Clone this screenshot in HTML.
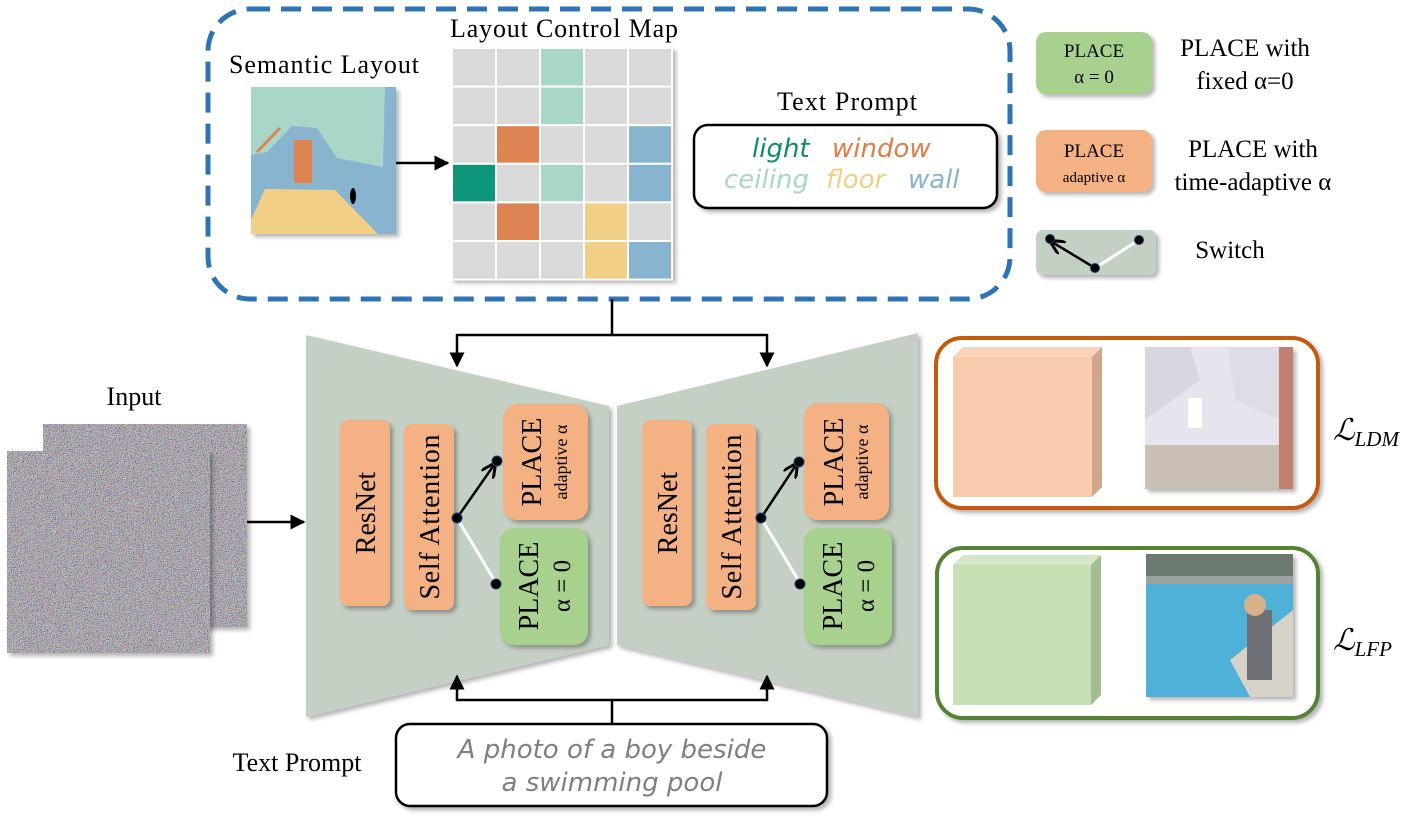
<!DOCTYPE html>
<html><head><meta charset="utf-8"><style>
html,body{margin:0;padding:0;background:#fff}
svg{display:block}
text{font-family:"Liberation Serif",serif}
.hand{font-family:"DejaVu Sans",sans-serif;font-style:italic}
</style></head><body>
<svg width="1422" height="821" viewBox="0 0 1422 821" xmlns="http://www.w3.org/2000/svg">
<defs>
<filter id="noise" x="0" y="0" width="100%" height="100%">
<feTurbulence type="fractalNoise" baseFrequency="1.5" numOctaves="2" seed="3"/>
<feColorMatrix type="matrix" values="1.9 0 0 0 -0.52  0 1.9 0 0 -0.54  0 0 1.9 0 -0.5  0 0 0 0 1"/>
</filter>
<filter id="sh" x="-10%" y="-10%" width="130%" height="130%"><feDropShadow dx="3" dy="3" stdDeviation="2" flood-color="#000" flood-opacity="0.3"/></filter>
<marker id="ar" viewBox="0 0 10 10" refX="9" refY="5" markerWidth="6" markerHeight="6" orient="auto"><path d="M0,0 L10,5 L0,10 z" fill="#000"/></marker>
<marker id="ar2" viewBox="0 0 10 10" refX="8" refY="5" markerWidth="6" markerHeight="6" orient="auto"><path d="M0,0 L10,5 L0,10" fill="none" stroke="#000" stroke-width="2"/></marker>
</defs>

<rect x="208" y="9" width="802" height="290" rx="42" fill="#fff" stroke="#2e74b5" stroke-width="5" stroke-dasharray="20,11"/>
<text x="324" y="73" font-size="26" text-anchor="middle" textLength="190">Semantic Layout</text>
<text x="564" y="37" font-size="26" text-anchor="middle" textLength="228">Layout Control Map</text>
<text x="847" y="110" font-size="26" text-anchor="middle" textLength="140">Text Prompt</text>

<g filter="url(#sh)">
<rect x="251" y="87" width="145" height="147" fill="#88b4cf"/>
<polygon points="251,87 385,87 383,167 337,158 317,128 292,126 267,152 251,155" fill="#a8d6c9"/>
<polygon points="265,189 335,190 378,234 251,234 251,220" fill="#f1cf86"/>
<rect x="294" y="140" width="18" height="43" fill="#de8453"/>
<line x1="257" y1="152" x2="280" y2="128" stroke="#de8453" stroke-width="3"/>
<ellipse cx="353" cy="196" rx="3" ry="8" fill="#000"/>
</g>
<line x1="396" y1="163" x2="448" y2="163" stroke="#000" stroke-width="2.5" marker-end="url(#ar)"/>

<g filter="url(#sh)"><rect x="451" y="47" width="222" height="233" fill="#fff"/></g>
<g stroke="#fff" stroke-width="2">
<g transform="translate(452,48)">
<rect x="0" y="0" width="44" height="38.6" fill="#d9d9d9"/><rect x="44" y="0" width="44" height="38.6" fill="#d9d9d9"/><rect x="88" y="0" width="44" height="38.6" fill="#a8d6c9"/><rect x="132" y="0" width="44" height="38.6" fill="#d9d9d9"/><rect x="176" y="0" width="44" height="38.6" fill="#d9d9d9"/>
<rect x="0" y="38.6" width="44" height="38.6" fill="#d9d9d9"/><rect x="44" y="38.6" width="44" height="38.6" fill="#d9d9d9"/><rect x="88" y="38.6" width="44" height="38.6" fill="#a8d6c9"/><rect x="132" y="38.6" width="44" height="38.6" fill="#d9d9d9"/><rect x="176" y="38.6" width="44" height="38.6" fill="#d9d9d9"/>
<rect x="0" y="77.2" width="44" height="38.6" fill="#d9d9d9"/><rect x="44" y="77.2" width="44" height="38.6" fill="#de8453"/><rect x="88" y="77.2" width="44" height="38.6" fill="#d9d9d9"/><rect x="132" y="77.2" width="44" height="38.6" fill="#d9d9d9"/><rect x="176" y="77.2" width="44" height="38.6" fill="#88b4cf"/>
<rect x="0" y="115.8" width="44" height="38.6" fill="#0e967a"/><rect x="44" y="115.8" width="44" height="38.6" fill="#d9d9d9"/><rect x="88" y="115.8" width="44" height="38.6" fill="#a8d6c9"/><rect x="132" y="115.8" width="44" height="38.6" fill="#d9d9d9"/><rect x="176" y="115.8" width="44" height="38.6" fill="#88b4cf"/>
<rect x="0" y="154.4" width="44" height="38.6" fill="#d9d9d9"/><rect x="44" y="154.4" width="44" height="38.6" fill="#de8453"/><rect x="88" y="154.4" width="44" height="38.6" fill="#d9d9d9"/><rect x="132" y="154.4" width="44" height="38.6" fill="#f1cf86"/><rect x="176" y="154.4" width="44" height="38.6" fill="#d9d9d9"/>
<rect x="0" y="193" width="44" height="38.6" fill="#d9d9d9"/><rect x="44" y="193" width="44" height="38.6" fill="#d9d9d9"/><rect x="88" y="193" width="44" height="38.6" fill="#d9d9d9"/><rect x="132" y="193" width="44" height="38.6" fill="#f1cf86"/><rect x="176" y="193" width="44" height="38.6" fill="#88b4cf"/>
</g>
</g>

<rect x="694" y="125" width="303" height="83" rx="14" fill="#fff" stroke="#000" stroke-width="2.5" filter="url(#sh)"/>
<text class="hand" font-size="26" y="157"><tspan x="752" fill="#0e8a6e">light</tspan><tspan x="832" fill="#de7d48">window</tspan></text>
<text class="hand" font-size="26" y="188"><tspan x="724" fill="#a8d6c9">ceiling</tspan><tspan x="826" fill="#f1cf86">floor</tspan><tspan x="908" fill="#88b4cf">wall</tspan></text>

<rect x="1036" y="32" width="116" height="62" rx="10" fill="#a9d18e" filter="url(#sh)"/>
<text x="1094" y="57" font-size="19" text-anchor="middle">PLACE</text>
<text x="1094" y="83" font-size="19" text-anchor="middle">α = 0</text>
<text x="1245" y="56" font-size="25" text-anchor="middle">PLACE with</text>
<text x="1245" y="89" font-size="25" text-anchor="middle">fixed α=0</text>
<rect x="1036" y="130" width="116" height="62" rx="10" fill="#f4b183" filter="url(#sh)"/>
<text x="1094" y="157" font-size="19" text-anchor="middle">PLACE</text>
<text x="1094" y="182" font-size="15" text-anchor="middle">adaptive α</text>
<text x="1253" y="157" font-size="25" text-anchor="middle">PLACE with</text>
<text x="1253" y="190" font-size="25" text-anchor="middle">time-adaptive α</text>
<rect x="1036" y="230" width="120" height="45" rx="7" fill="#c5d0c5" filter="url(#sh)"/>
<line x1="1095" y1="268" x2="1139" y2="240" stroke="#fff" stroke-width="3"/>
<line x1="1095" y1="268" x2="1052" y2="242" stroke="#000" stroke-width="2.5" marker-end="url(#ar2)"/>
<circle cx="1050" cy="239" r="4.5" fill="#000" stroke="#1f3f7a"/>
<circle cx="1139" cy="240" r="4.5" fill="#000" stroke="#1f3f7a"/>
<circle cx="1095" cy="268" r="4.5" fill="#000" stroke="#1f3f7a"/>
<text x="1230" y="258" font-size="25" text-anchor="middle">Switch</text>

<polyline points="612,299 612,335 457,335" fill="none" stroke="#000" stroke-width="2.5"/>
<line x1="612" y1="335" x2="767" y2="335" stroke="#000" stroke-width="2.5"/>
<line x1="457" y1="334" x2="457" y2="366" stroke="#000" stroke-width="2.5" marker-end="url(#ar)"/>
<line x1="767" y1="334" x2="767" y2="366" stroke="#000" stroke-width="2.5" marker-end="url(#ar)"/>

<polygon points="306,335 609,406 609,645 306,717" fill="#c5d0c5" filter="url(#sh)"/>
<polygon points="617,406 918,333 918,717 617,645" fill="#c5d0c5" filter="url(#sh)"/>

<line x1="612" y1="724" x2="612" y2="700" stroke="#000" stroke-width="2.5"/>
<line x1="456" y1="700" x2="768" y2="700" stroke="#000" stroke-width="2.5"/>
<line x1="457" y1="701" x2="457" y2="676" stroke="#000" stroke-width="2.5" marker-end="url(#ar)"/>
<line x1="767" y1="701" x2="767" y2="676" stroke="#000" stroke-width="2.5" marker-end="url(#ar)"/>

<g filter="url(#sh)">
<rect x="340" y="420" width="50" height="186" rx="8" fill="#f4b183"/>
<rect x="404" y="424" width="50" height="186" rx="8" fill="#f4b183"/>
<rect x="503" y="404" width="85" height="116" rx="14" fill="#f4b183"/>
<rect x="500" y="528" width="88" height="117" rx="14" fill="#a9d18e"/>
<rect x="642" y="420" width="50" height="186" rx="8" fill="#f4b183"/>
<rect x="706" y="424" width="50" height="186" rx="8" fill="#f4b183"/>
<rect x="804" y="403" width="85" height="117" rx="14" fill="#f4b183"/>
<rect x="804" y="528" width="88" height="117" rx="14" fill="#a9d18e"/>
</g>
<g font-size="28" text-anchor="middle">
<text transform="translate(375,513) rotate(-90)">ResNet</text>
<text transform="translate(439,517) rotate(-90)" textLength="165">Self Attention</text>
<text transform="translate(677,513) rotate(-90)">ResNet</text>
<text transform="translate(741,517) rotate(-90)" textLength="165">Self Attention</text>
<text transform="translate(541,462) rotate(-90)">PLACE</text>
<text transform="translate(843,462) rotate(-90)">PLACE</text>
<text transform="translate(538,586) rotate(-90)">PLACE</text>
<text transform="translate(842,586) rotate(-90)">PLACE</text>
</g>
<g font-size="18" text-anchor="middle">
<text transform="translate(567,462) rotate(-90)">adaptive α</text>
<text transform="translate(868,462) rotate(-90)">adaptive α</text>
</g>
<g font-size="25" text-anchor="middle">
<text transform="translate(570,586) rotate(-90)">α = 0</text>
<text transform="translate(874,586) rotate(-90)">α = 0</text>
</g>
<line x1="457" y1="518" x2="496" y2="583" stroke="#fff" stroke-width="3"/>
<line x1="457" y1="518" x2="494" y2="465" stroke="#000" stroke-width="2.5" marker-end="url(#ar2)"/>
<circle cx="457" cy="518" r="5" fill="#000" stroke="#1f3f7a"/>
<circle cx="497" cy="461" r="5" fill="#000" stroke="#1f3f7a"/>
<circle cx="496" cy="584" r="5" fill="#000" stroke="#1f3f7a"/>
<line x1="761" y1="518" x2="800" y2="583" stroke="#fff" stroke-width="3"/>
<line x1="761" y1="518" x2="796" y2="465" stroke="#000" stroke-width="2.5" marker-end="url(#ar2)"/>
<circle cx="761" cy="518" r="5" fill="#000" stroke="#1f3f7a"/>
<circle cx="799" cy="462" r="5" fill="#000" stroke="#1f3f7a"/>
<circle cx="800" cy="584" r="5" fill="#000" stroke="#1f3f7a"/>

<text x="134" y="405" font-size="26" text-anchor="middle">Input</text>
<rect x="43" y="424" width="204" height="203" fill="#6e6a70" filter="url(#sh)"/>
<rect x="43" y="424" width="204" height="203" filter="url(#noise)"/>
<rect x="7" y="451" width="203" height="202" fill="#6e6a70" filter="url(#sh)"/>
<rect x="7" y="451" width="203" height="202" filter="url(#noise)"/>
<line x1="247" y1="522" x2="304" y2="522" stroke="#000" stroke-width="2.5" marker-end="url(#ar)"/>

<text x="297" y="771" font-size="26" text-anchor="middle">Text Prompt</text>
<rect x="396" y="724" width="431" height="82" rx="14" fill="#fff" stroke="#000" stroke-width="2.5" filter="url(#sh)"/>
<text class="hand" x="612" y="758" font-size="26" fill="#7f7f7f" text-anchor="middle">A photo of a boy beside</text>
<text class="hand" x="612" y="791" font-size="26" fill="#7f7f7f" text-anchor="middle">a swimming pool</text>

<rect x="936" y="338" width="382" height="170" rx="26" fill="#fff" stroke="#c55a11" stroke-width="4" filter="url(#sh)"/>
<polygon points="953,357 963,347 1102,347 1092,357" fill="#f9d4bb"/>
<polygon points="1092,357 1102,347 1102,487 1092,497" fill="#d3a68b"/>
<rect x="953" y="357" width="139" height="140" fill="#f8cbad"/>
<g filter="url(#sh)">
<rect x="1145" y="347" width="148" height="142" fill="#e6e4ec"/>
<polygon points="1145,347 1190,347 1200,380 1145,420" fill="#d8d6e0"/>
<polygon points="1228,347 1280,347 1280,420 1235,400" fill="#dedce6"/>
<polygon points="1145,445 1280,445 1280,489 1145,489" fill="#c9bfb4"/>
<rect x="1188" y="398" width="14" height="30" fill="#fff"/>
<rect x="1279" y="347" width="14" height="142" fill="#c08070"/>
</g>
<text x="1333" y="440" font-size="30" font-style="italic" fill="#000">ℒ<tspan font-size="21" dy="6">LDM</tspan></text>

<rect x="937" y="548" width="381" height="170" rx="26" fill="#fff" stroke="#548235" stroke-width="4" filter="url(#sh)"/>
<polygon points="953,565 963,555 1101,555 1091,565" fill="#d3e6c8"/>
<polygon points="1091,565 1101,555 1101,695 1091,705" fill="#a3bc94"/>
<rect x="953" y="565" width="138" height="140" fill="#c5e0b4"/>
<g filter="url(#sh)">
<rect x="1146" y="554" width="147" height="143" fill="#4fb0d8"/>
<rect x="1146" y="554" width="147" height="25" fill="#6b7a6e"/>
<rect x="1146" y="576" width="147" height="8" fill="#9aa3a0"/>
<polygon points="1293,610 1293,697 1250,697 1230,660" fill="#d6d2c8"/>
<rect x="1247" y="610" width="25" height="70" fill="#6e7074"/>
<circle cx="1255" cy="605" r="11" fill="#d8b08a"/>
</g>
<text x="1333" y="650" font-size="30" font-style="italic" fill="#000">ℒ<tspan font-size="21" dy="6">LFP</tspan></text>
</svg>
</body></html>
